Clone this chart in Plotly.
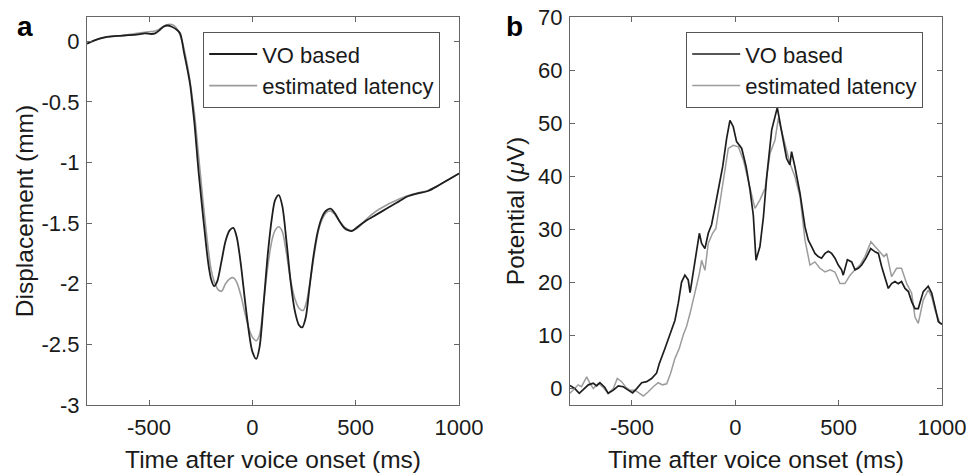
import plotly.graph_objects as go

# ---------------- Panel a: displacement (mm) ----------------
a_vo_t = [-800, -760, -720, -680, -640, -600, -560, -520, -490, -470, -450, -430, -410, -390, -370,
          -350, -330, -310, -300, -290, -280, -270, -260, -250, -240, -230, -220, -210, -200, -185,
          -170, -150, -130, -110, -92, -75, -55, -35, -15, 0, 19, 35, 55, 75, 95, 110, 128, 145,
          165, 185, 205, 225, 241, 258, 275, 295, 315, 335, 355, 378, 400, 420, 445, 465, 481, 510,
          550, 600, 650, 700, 750, 800, 850, 900, 950, 1000]
a_vo_v = [-0.02, 0.01, 0.03, 0.04, 0.045, 0.05, 0.055, 0.065, 0.06, 0.065, 0.09, 0.12, 0.13, 0.12, 0.10,
          0.066, -0.10, -0.27, -0.37, -0.52, -0.68, -0.88, -1.08, -1.25, -1.42, -1.58, -1.74, -1.87, -1.96, -2.02,
          -1.98, -1.82, -1.65, -1.56, -1.54, -1.62, -1.85, -2.15, -2.42, -2.56, -2.62, -2.52, -2.15, -1.75, -1.45, -1.31, -1.27, -1.36,
          -1.65, -1.98, -2.22, -2.34, -2.36, -2.28, -2.05, -1.78, -1.58, -1.46, -1.40, -1.38, -1.42, -1.48, -1.54, -1.56, -1.565, -1.53,
          -1.48, -1.43, -1.38, -1.33, -1.28, -1.255, -1.235, -1.19, -1.14, -1.09]

a_est_t = [-800, -760, -720, -680, -640, -600, -560, -520, -490, -470, -450, -430, -400, -380,
           -360, -340, -320, -300, -290, -280, -270, -260, -250, -240, -230, -220, -210, -200, -185,
           -165, -148, -130, -110, -92, -75, -55, -35, -15, 0, 19, 35, 55, 75, 95, 110, 128, 145,
           165, 185, 205, 225, 246, 262, 280, 300, 320, 340, 360, 378, 400, 420, 445, 465, 488, 510,
           550, 600, 650, 700, 750, 800, 850, 900, 950, 1000]
a_est_v = [-0.02, 0.01, 0.03, 0.04, 0.045, 0.055, 0.065, 0.075, 0.08, 0.085, 0.10, 0.125, 0.14, 0.13,
           0.09, 0.0, -0.15, -0.35, -0.47, -0.60, -0.77, -0.95, -1.12, -1.30, -1.46, -1.62, -1.76, -1.88, -1.98,
           -2.05, -2.06, -2.00, -1.96, -1.95, -1.99, -2.10, -2.25, -2.38, -2.44, -2.47, -2.42, -2.15, -1.85, -1.64, -1.56, -1.53, -1.57,
           -1.75, -1.97, -2.12, -2.20, -2.22, -2.15, -1.98, -1.75, -1.56, -1.46, -1.41, -1.40, -1.43, -1.48, -1.53, -1.555, -1.56, -1.54,
           -1.47, -1.40, -1.35, -1.31, -1.275, -1.25, -1.23, -1.19, -1.14, -1.09]

# ---------------- Panel b: potential (uV) ----------------
b_vo_t = [-800, -776, -755, -735, -711, -687, -671, -655, -631, -615, -590, -566, -542, -518, -497,
          -477, -453, -429, -405, -381, -368, -340, -316, -292, -276, -260, -244, -228, -219, -203,
          -190, -174, -163, -147, -131, -115, -98, -82, -61, -42, -26, -10, 6, 31, 52, 71, 87, 100,
          119, 136, 152, 176, 203, 224, 248, 264, 272, 288, 313, 337, 353, 369, 385, 401, 417, 434,
          450, 466, 482, 498, 514, 522, 542, 563, 579, 595, 611, 632, 655, 676, 692, 708, 724, 740,
          756, 772, 788, 804, 821, 837, 853, 869, 885, 909, 933, 950, 966, 982, 1000]
b_vo_v = [0.5, -0.1, -1.0, -0.3, 0.6, 0.9, 0.4, 1.0, 0.1, -1.0, -0.4, 0.4, 0.25, -0.4, -0.9,
          -0.1, 1.0, 1.2, 1.8, 2.8, 4.6, 7.5, 10.3, 12.8, 16.0, 20.0, 21.3, 20.4, 18.0, 22.3,
          25.7, 29.2, 27.3, 26.3, 29.2, 30.8, 34.2, 37.7, 41.8, 47.1, 50.5, 49.3, 46.5, 45.2, 41.8, 37.4, 32.6, 24.1,
          26.7, 32.3, 39.9, 48.7, 52.9, 48.4, 43.3, 42.1, 44.6, 41.8, 36.7, 30.4, 27.9, 26.7, 25.4, 24.8, 24.5, 25.4,
          25.8, 25.4, 24.5, 23.2, 22.3, 21.3, 24.2, 23.8, 22.3, 22.6, 23.2, 24.5, 26.3, 25.7, 25.4, 22.9, 21.0, 18.8,
          19.7, 20.1, 19.7, 20.1, 18.8, 18.2, 16.3, 15.0, 15.0, 18.2, 19.2, 17.9, 15.3, 12.5, 12.0]

b_est_t = [-800, -776, -760, -744, -719, -703, -687, -663, -639, -615, -590, -571, -550, -529, -510,
           -486, -461, -445, -421, -397, -373, -352, -332, -313, -292, -271, -252, -236, -219, -203,
           -187, -174, -163, -147, -131, -110, -94, -78, -58, -34, -10, 15, 39, 63, 84, 95, 119, 144,
           168, 192, 208, 232, 256, 264, 288, 313, 337, 361, 385, 409, 434, 458, 482, 506, 530, 555,
           579, 603, 627, 656, 676, 700, 719, 732, 756, 780, 804, 829, 853, 869, 885, 909, 933, 950,
           966, 990, 1000]
b_est_v = [-1.0, -0.1, 0.6, 0.25, 2.1, 0.9, -0.1, 0.9, 0.1, -1.0, -0.1, 1.8, 1.2, 0.1, -0.4,
           -0.4, -1.0, -1.5, -0.7, 0.25, 1.0, 0.6, 0.8, 2.8, 5.6, 7.5, 10.0, 11.6, 14.1, 16.9,
           19.1, 21.6, 24.1, 22.2, 27.3, 29.2, 30.1, 34.2, 39.9, 45.2, 45.8, 45.5, 43.0, 39.2, 35.5, 33.9, 35.5, 37.7,
           44.3, 46.8, 50.9, 47.4, 44.0, 42.4, 39.9, 36.1, 27.9, 23.2, 23.8, 22.6, 21.9, 22.3, 21.9, 19.7, 19.7, 21.3,
           22.3, 23.2, 24.8, 27.6, 26.7, 25.7, 24.8, 25.4, 21.0, 22.6, 22.6, 19.7, 17.9, 13.4, 12.2, 16.6, 18.5, 17.2,
           14.7, 12.2, 12.0]

x_ticks = [-500, 0, 500, 1000]
x_ticktext = ["-500", "0", "500", "1000"]
a_yticks = [-3, -2.5, -2, -1.5, -1, -0.5, 0]
a_yticktext = ["-3", "-2.5", "-2", "-1.5", "-1", "-0.5", "0"]
b_yticks = [0, 10, 20, 30, 40, 50, 60, 70]
b_yticktext = ["0", "10", "20", "30", "40", "50", "60", "70"]

series_names = ["VO based", "estimated latency"]
DARK = "#1e1e1e"
GRAY = "#9c9c9c"
FONT = "Liberation Sans, Arial, sans-serif"

fig = go.Figure()
# panel a
fig.add_trace(go.Scatter(x=a_est_t, y=a_est_v, mode="lines", name=series_names[1],
                         line=dict(color=GRAY, width=1.6, shape="spline", smoothing=0.8),
                         xaxis="x", yaxis="y", legend="legend", legendrank=2))
fig.add_trace(go.Scatter(x=a_vo_t, y=a_vo_v, mode="lines", name=series_names[0],
                         line=dict(color=DARK, width=1.8, shape="spline", smoothing=0.8),
                         xaxis="x", yaxis="y", legend="legend", legendrank=1))
# panel b
fig.add_trace(go.Scatter(x=b_est_t, y=b_est_v, mode="lines", name=series_names[1],
                         line=dict(color=GRAY, width=1.5),
                         xaxis="x2", yaxis="y2", legend="legend2", legendrank=2))
fig.add_trace(go.Scatter(x=b_vo_t, y=b_vo_v, mode="lines", name=series_names[0],
                         line=dict(color=DARK, width=1.7),
                         xaxis="x2", yaxis="y2", legend="legend2", legendrank=1))

axis_common = dict(showgrid=False, zeroline=False, showline=True, linecolor="#666666", linewidth=1.3,
                   mirror="ticks", ticks="inside", ticklen=5, tickcolor="#666666", tickwidth=1.2,
                   automargin=False,
                   tickfont=dict(family=FONT, size=22, color="#1a1a1a"))

TITLE_FONT = dict(size=24.5, family=FONT, color="#1a1a1a")
ydom = [0.1456, 0.9641]
legend_common = dict(xanchor="left", yanchor="top", bgcolor="white",
                     bordercolor="#555555", borderwidth=1.2, font=dict(size=22, family=FONT, color="#1a1a1a"),
                     tracegroupgap=0, itemwidth=48)
fig.update_layout(
    width=967, height=474,
    margin=dict(l=0, r=0, t=0, b=0, autoexpand=False),
    paper_bgcolor="white", plot_bgcolor="white",
    font=dict(family=FONT, color="#1a1a1a"),
    showlegend=True,
    xaxis=dict(domain=[0.0900, 0.4747], range=[-800, 1000], tickvals=x_ticks, ticktext=x_ticktext,
               anchor="y", ticklabelstandoff=2,
               title=dict(text="Time after voice onset (ms)", font=TITLE_FONT, standoff=12),
               **axis_common),
    yaxis=dict(domain=ydom, range=[-3, 0.2], tickvals=a_yticks, ticktext=a_yticktext, anchor="x",
               ticklabelstandoff=2,
               title=dict(text="Displacement (mm)", font=TITLE_FONT, standoff=0),
               **axis_common),
    xaxis2=dict(domain=[0.5894, 0.9742], range=[-800, 1000], tickvals=x_ticks, ticktext=x_ticktext,
                anchor="y2", ticklabelstandoff=2,
                title=dict(text="Time after voice onset (ms)", font=TITLE_FONT, standoff=12),
                **axis_common),
    yaxis2=dict(domain=ydom, range=[-3.2, 70], tickvals=b_yticks, ticktext=b_yticktext, anchor="x2",
                ticklabelstandoff=2,
                title=dict(text="Potential (<i>μ</i>V)", font=TITLE_FONT, standoff=6),
                **axis_common),
    legend=dict(x=203 / 967, y=1 - 32 / 474, **legend_common),
    legend2=dict(x=686 / 967, y=1 - 32 / 474, **legend_common),
)
fig.add_annotation(text="<b>a</b>", x=25 / 967, y=1 - 27 / 474, xref="paper", yref="paper",
                   xanchor="center", yanchor="middle", showarrow=False,
                   font=dict(size=28, family=FONT, color="black"))
fig.add_annotation(text="<b>b</b>", x=514 / 967, y=1 - 27 / 474, xref="paper", yref="paper",
                   xanchor="center", yanchor="middle", showarrow=False,
                   font=dict(size=28, family=FONT, color="black"))

fig.write_html("out.html")
